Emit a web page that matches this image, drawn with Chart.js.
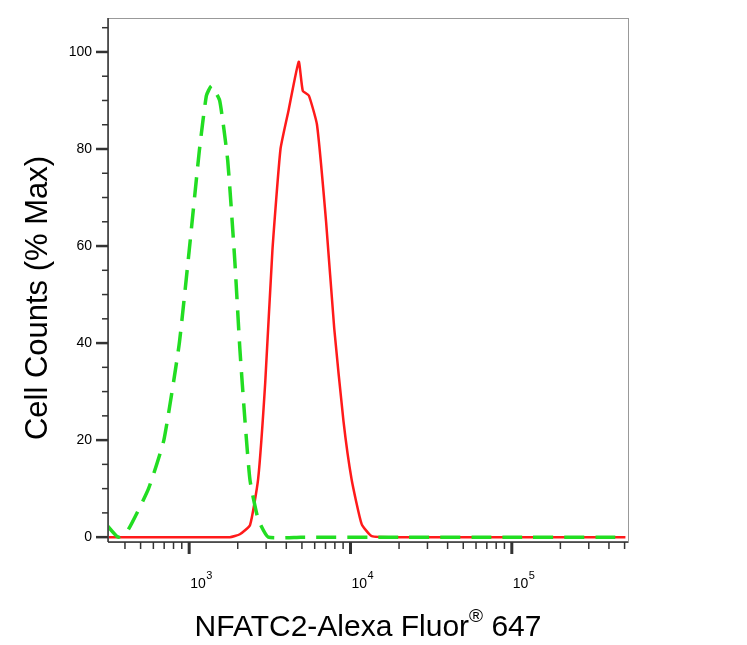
<!DOCTYPE html>
<html><head><meta charset="utf-8">
<script src="https://cdn.jsdelivr.net/npm/chart.js@4"></script>
<style>html,body{margin:0;padding:0;background:#fff}#w{width:747px;height:645px}</style>
</head><body><div id="w"><canvas id="c"></canvas></div>
<script>
const isoX = [305,363,420,560,697,866,1000,1156,1279,1375,1545,1734,1918,2062,2218,2384,2677,3094,4920,15660,89000,506000];
const isoY = [2.7,0,1.6,10,20,39.6,59,79.6,91,93,90,77.6,57,38.8,24,11.7,3.7,0,0,0,0,0];
const nfX = [305,1000,1786,2062,2384,2677,2963,3280,3683,4134,4777,5061,5521,6200,7060,7930,9040,10150,11730,13550,20000,89000,506000];
const nfY = [0,0,0,0.6,2.5,12,32,59,80,88,98,92,91,85,65,43,24,12,2.7,0.2,0,0,0];
const yTicks = [0,20,40,60,80,100];
const xMajors = [1000,10000,100000];
const xExps = ['3','4','5'];
const pts = (xs,ys)=>xs.map((x,i)=>({x,y:ys[i]}));

const deco = {
  id:'deco',
  afterDraw(ch){
    const c=ch.ctx, a=ch.chartArea, xs=ch.scales.x, ys=ch.scales.y;
    c.save();
    c.strokeStyle='#999'; c.lineWidth=1;
    c.strokeRect(a.left+0.5,a.top+0.5,a.right-a.left,a.bottom-a.top);
    c.strokeStyle='#333'; c.lineWidth=1.5;
    c.beginPath(); c.moveTo(a.left,a.top); c.lineTo(a.left,a.bottom); c.moveTo(a.left,a.bottom); c.lineTo(a.right,a.bottom); c.stroke();
    for(let v=0; v<=105; v+=5){
      const p=ys.getPixelForValue(v); const maj=v%20===0;
      c.lineWidth=maj?2.5:1.5;
      c.beginPath(); c.moveTo(a.left-(maj?12:6),p); c.lineTo(a.left,p); c.stroke();
    }
    for(let e=2;e<=5;e++){
      for(let m=1;m<10;m++){
        const v=m*Math.pow(10,e); if(v<xs.min||v>xs.max) continue;
        const p=xs.getPixelForValue(v); const maj=m===1;
        c.lineWidth=maj?3:1.5;
        c.beginPath(); c.moveTo(p,a.bottom); c.lineTo(p,a.bottom+(maj?12:7)); c.stroke();
      }
    }
    c.fillStyle='#000';
    c.font='14px "Liberation Sans"'; c.textAlign='right'; c.textBaseline='middle';
    yTicks.forEach(v=>c.fillText(String(v),a.left-16,ys.getPixelForValue(v)));
    c.textBaseline='alphabetic';
    xMajors.forEach((v,i)=>{
      const p=xs.getPixelForValue(v);
      c.textAlign='left'; c.font='14px "Liberation Sans"';
      c.fillText('10',p+1,a.bottom+46);
      c.font='11px "Liberation Sans"';
      c.fillText(xExps[i],p+17,a.bottom+37);
    });
    // x title with superscript ®
    c.font='30px "Liberation Sans"';
    const t1='NFATC2-Alexa Fluor', t3=' 647';
    c.font='30px "Liberation Sans"'; const w1=c.measureText(t1).width, w3=c.measureText(t3).width;
    c.font='19px "Liberation Sans"'; const w2=c.measureText('®').width;
    let x0=368-(w1+w2+w3)/2;
    c.textAlign='left';
    c.font='30px "Liberation Sans"'; c.fillText(t1,x0,636);
    c.font='19px "Liberation Sans"'; c.fillText('®',x0+w1,622);
    c.font='30px "Liberation Sans"'; c.fillText(t3,x0+w1+w2,636);
    c.textAlign='center';
    c.translate(47,298); c.rotate(-Math.PI/2);
    c.font='31px "Liberation Sans"';
    c.fillText('Cell Counts (% Max)',0,0);
    c.restore();
  }
};

new Chart(document.getElementById('c'),{
  type:'line',
  data:{datasets:[
    {data:pts(isoX,isoY),borderColor:'#22dd22',borderWidth:3.5,borderDash:[20,11],pointRadius:0,tension:0.15,fill:false},
    {data:pts(nfX,nfY),borderColor:'#ff1a1a',borderWidth:2.5,pointRadius:0,tension:0.15,fill:false}
  ]},
  options:{
    responsive:true,maintainAspectRatio:false,animation:false,
    layout:{padding:{left:0,top:18,right:119,bottom:0}},
    plugins:{legend:{display:false},tooltip:{enabled:false}},
    scales:{
      x:{type:'logarithmic',min:314,max:525000,grid:{display:false,drawTicks:false},border:{display:false},ticks:{display:false},afterFit:s=>{s.height=103;}},
      y:{min:-1,max:107,grid:{display:false,drawTicks:false},border:{display:false},ticks:{display:false},afterFit:s=>{s.width=108;}}
    }
  },
  plugins:[deco]
});
</script></body></html>
